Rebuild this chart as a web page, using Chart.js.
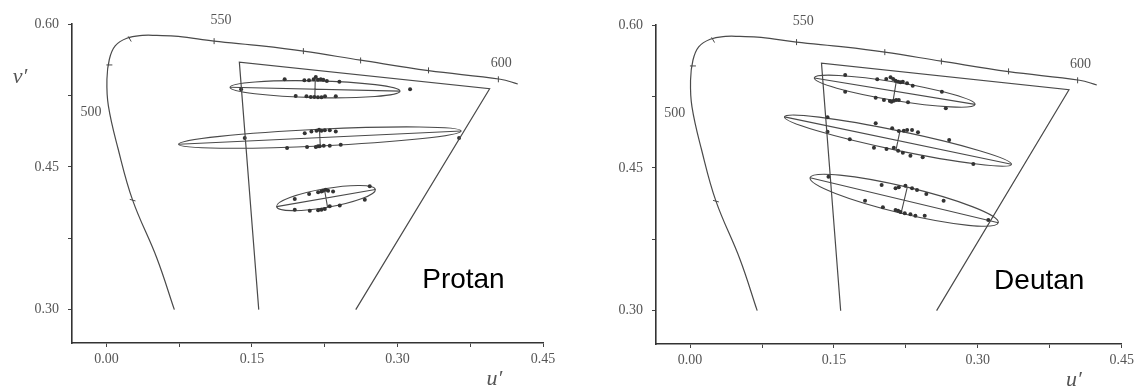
<!DOCTYPE html>
<html>
<head>
<meta charset="utf-8">
<script src="https://cdn.jsdelivr.net/npm/chart.js@4.4.0/dist/chart.umd.min.js"></script>
<style>
  html, body { margin: 0; padding: 0; background: #fff; }
  #wrap { position: relative; width: 1138px; height: 389px; }
  .panel { position: absolute; top: 0; }
</style>
</head>
<body>
<div id="wrap">
  <canvas id="protanChart" class="panel" style="left:0" width="569" height="389"></canvas>
  <canvas id="deutanChart" class="panel" style="left:569px" width="569" height="389"></canvas>
</div>
<script>
const uTicks = [0, 0.075, 0.15, 0.225, 0.30, 0.375, 0.45];
const vTicks = [0.30, 0.375, 0.45, 0.525, 0.60];

// spectrum locus, bottom of the blue side up and across to the red end
const locusU = [0.070, 0.052, 0.027, 0.012, 0.002, 0.0005, 0.003, 0.009, 0.021, 0.037, 0.052, 0.074, 0.111, 0.160, 0.203, 0.262, 0.332, 0.406, 0.424];
const locusV = [0.300, 0.354, 0.415, 0.469, 0.514, 0.542, 0.563, 0.577, 0.585, 0.588, 0.588, 0.587, 0.582, 0.577, 0.5715, 0.562, 0.551, 0.542, 0.537];

// small wavelength marks along the locus
const markU = [0.027, 0.003, 0.024, 0.111, 0.203, 0.262, 0.332, 0.404];
const markV = [0.415, 0.557, 0.5843, 0.582, 0.5715, 0.5617, 0.5513, 0.5419];
const markRot = [15, 0, 60, 90, 90, 90, 90, 90];

const waveText = ['550', '600', '500'];
const waveU = [0.118, 0.407, -0.016];
const waveV = [0.6035, 0.559, 0.507];

// display gamut, open at the bottom
const gamutU = [0.157, 0.137, 0.395, 0.257];
const gamutV = [0.300, 0.560, 0.532, 0.300];

// protan matches
const protanU = [0.1388, 0.1837, 0.2040, 0.2088, 0.2136, 0.2158, 0.2180, 0.2209, 0.2235, 0.2272, 0.2401, 0.1951, 0.2062, 0.2106, 0.2143, 0.2180, 0.2217, 0.2253, 0.2364, 0.3130,
  0.1426, 0.2044, 0.2113, 0.2165, 0.2192, 0.2216, 0.2251, 0.2302, 0.2364, 0.1862, 0.2068, 0.2158, 0.2181, 0.2199, 0.2240, 0.2302, 0.2415, 0.3635,
  0.1941, 0.2089, 0.2182, 0.2216, 0.2233, 0.2261, 0.2285, 0.2336, 0.2714, 0.2663, 0.1941, 0.2096, 0.2182, 0.2216, 0.2251, 0.2302, 0.2405];
const protanV = [0.5314, 0.5419, 0.5408, 0.5408, 0.5419, 0.5443, 0.5415, 0.5419, 0.5415, 0.5401, 0.5394, 0.5245, 0.5241, 0.5234, 0.5234, 0.5231, 0.5231, 0.5241, 0.5241, 0.5314,
  0.4803, 0.4852, 0.4872, 0.4880, 0.4890, 0.4880, 0.4883, 0.4883, 0.4872, 0.4698, 0.4708, 0.4708, 0.4715, 0.4715, 0.4722, 0.4722, 0.4733, 0.4803,
  0.4162, 0.4215, 0.4232, 0.4242, 0.4249, 0.4260, 0.4249, 0.4242, 0.4295, 0.4155, 0.4050, 0.4040, 0.4043, 0.4050, 0.4057, 0.4085, 0.4095];

// protan ellipses: centre, half major axis, half height
const protanCu = [0.2150, 0.2200, 0.2263];
const protanCv = [0.5315, 0.4807, 0.4172];
const protanDu = [0.0876, 0.1456, 0.0509];
const protanDv = [-0.0020, 0.0070, 0.0090];
const protanB = [0.0088, 0.0088, 0.0100];

// deutan matches
const deutanU = [0.1617, 0.1951, 0.2045, 0.2090, 0.2117, 0.2142, 0.2169, 0.2194, 0.2218, 0.2262, 0.2321, 0.2625, 0.1617, 0.1935, 0.2021, 0.2083, 0.2100, 0.2124, 0.2148, 0.2176, 0.2272, 0.2666,
  0.1433, 0.1935, 0.2107, 0.2176, 0.2228, 0.2263, 0.2314, 0.2376, 0.2701, 0.1433, 0.1665, 0.1917, 0.2048, 0.2124, 0.2169, 0.2218, 0.2297, 0.2425, 0.2953,
  0.1443, 0.1997, 0.2142, 0.2176, 0.2245, 0.2314, 0.2366, 0.2463, 0.2643, 0.1824, 0.2010, 0.2142, 0.2169, 0.2194, 0.2238, 0.2297, 0.2349, 0.2446, 0.3109];
const deutanV = [0.5475, 0.5430, 0.5433, 0.5451, 0.5433, 0.5415, 0.5405, 0.5398, 0.5405, 0.5388, 0.5363, 0.5300, 0.5300, 0.5237, 0.5212, 0.5202, 0.5195, 0.5205, 0.5212, 0.5212, 0.5188, 0.5125,
  0.5031, 0.4968, 0.4915, 0.4887, 0.4890, 0.4897, 0.4897, 0.4873, 0.4792, 0.4880, 0.4800, 0.4712, 0.4698, 0.4712, 0.4680, 0.4659, 0.4628, 0.4611, 0.4540,
  0.4407, 0.4320, 0.4285, 0.4296, 0.4312, 0.4285, 0.4267, 0.4225, 0.4155, 0.4155, 0.4086, 0.4057, 0.4050, 0.4036, 0.4022, 0.4012, 0.3997, 0.3997, 0.3952];

const deutanCu = [0.2133, 0.2167, 0.2232];
const deutanCv = [0.5305, 0.4786, 0.4160];
const deutanDu = [0.0838, 0.1183, 0.0981];
const deutanDv = [-0.0139, -0.0249, -0.0236];
const deutanB = [0.0097, 0.0104, 0.0145];

const ink = '#4a4a4a';
const serif = 'Liberation Serif';
const pts = (us, vs) => us.map((u, i) => ({ x: u, y: vs[i] }));

// ellipses, their axes and all the free text, placed through the scales
const cieMarks = {
  id: 'cieMarks',
  beforeDatasetsDraw(chart, args, o) {
    const { ctx, scales: { x, y } } = chart;
    ctx.save();
    ctx.strokeStyle = ink;
    ctx.lineWidth = 1.1;
    o.cu.forEach((cu, i) => {
      const cx = x.getPixelForValue(cu), cy = y.getPixelForValue(o.cv[i]);
      const ex = x.getPixelForValue(cu + o.du[i]) - cx;
      const ey = y.getPixelForValue(o.cv[i] + o.dv[i]) - cy;
      const rx = Math.hypot(ex, ey), rot = Math.atan2(ey, ex);
      const ry = Math.abs(y.getPixelForValue(o.cv[i] + o.b[i]) - cy) * Math.cos(rot);
      ctx.beginPath();
      ctx.ellipse(cx, cy, rx, ry, rot, 0, Math.PI * 2);
      ctx.stroke();
      ctx.beginPath();
      ctx.moveTo(cx - ex, cy - ey);
      ctx.lineTo(cx + ex, cy + ey);
      const nx = -Math.sin(rot) * ry, ny = Math.cos(rot) * ry;
      ctx.moveTo(cx - nx, cy - ny);
      ctx.lineTo(cx + nx, cy + ny);
      ctx.stroke();
    });
    ctx.restore();
  },
  afterDraw(chart, args, o) {
    const { ctx, scales: { x, y } } = chart;
    ctx.save();
    ctx.textAlign = 'center';
    ctx.textBaseline = 'middle';
    ctx.fillStyle = '#555';
    ctx.font = '14px "' + serif + '"';
    waveText.forEach((t, i) => ctx.fillText(t, x.getPixelForValue(waveU[i]), y.getPixelForValue(waveV[i])));
    ctx.font = 'italic 22px "' + serif + '"';
    ctx.fillText('u\u2032', x.getPixelForValue(0.40), y.getPixelForValue(0.2265));
    if (o.showV) ctx.fillText('v\u2032', x.left - 52, y.getPixelForValue(0.5436));
    ctx.fillStyle = '#000';
    ctx.font = '28px "Liberation Sans"';
    ctx.fillText(o.name, x.getPixelForValue(o.nameU), y.getPixelForValue(0.331));
    ctx.restore();
  }
};

function buildChart(id, cfg) {
  return new Chart(document.getElementById(id), {
    type: 'scatter',
    data: {
      datasets: [
        { data: pts(locusU, locusV), showLine: true, tension: 0.4, borderColor: ink, borderWidth: 1.2, pointRadius: 0 },
        { data: pts(gamutU, gamutV), showLine: true, tension: 0, borderColor: ink, borderWidth: 1.2, pointRadius: 0 },
        { data: pts(markU, markV), pointStyle: 'line', pointRotation: markRot, pointRadius: 3, borderColor: ink, borderWidth: 1 },
        { data: pts(cfg.u, cfg.v), pointRadius: 2, backgroundColor: '#333', borderColor: '#333', borderWidth: 0 }
      ]
    },
    options: {
      responsive: false,
      animation: false,
      layout: { padding: { top: cfg.top, right: cfg.right, left: 0, bottom: 0 } },
      plugins: {
        legend: { display: false },
        tooltip: { enabled: false },
        cieMarks: cfg.marks
      },
      scales: {
        x: {
          type: 'linear', min: -0.0355, max: 0.45,
          afterBuildTicks: s => { s.ticks = uTicks.map(v => ({ value: v })); },
          afterFit: s => { s.height = cfg.xh; },
          grid: { drawOnChartArea: false, tickLength: 4, tickColor: '#444' },
          border: { color: '#333', width: 1.6 },
          ticks: {
            autoSkip: false, maxRotation: 0, padding: 4, color: '#555',
            font: { family: serif, size: 14 },
            callback: v => Math.abs(v / 0.15 - Math.round(v / 0.15)) < 1e-6 ? v.toFixed(2) : ''
          }
        },
        y: {
          type: 'linear', min: 0.265, max: 0.60,
          afterBuildTicks: s => { s.ticks = vTicks.map(v => ({ value: v })); },
          afterFit: s => { s.width = cfg.yw; },
          grid: { drawOnChartArea: false, tickLength: 4, tickColor: '#444' },
          border: { color: '#333', width: 1.6 },
          ticks: {
            autoSkip: false, padding: 9, color: '#555',
            font: { family: serif, size: 14 },
            callback: v => Math.abs(v / 0.15 - Math.round(v / 0.15)) < 1e-6 ? v.toFixed(2) : ''
          }
        }
      }
    },
    plugins: [cieMarks]
  });
}

buildChart('protanChart', {
  u: protanU, v: protanV, top: 24, right: 26, yw: 72, xh: 46,
  marks: { cu: protanCu, cv: protanCv, du: protanDu, dv: protanDv, b: protanB, name: 'Protan', nameU: 0.368, showV: true }
});
buildChart('deutanChart', {
  u: deutanU, v: deutanV, top: 25, right: 14, yw: 87, xh: 45,
  marks: { cu: deutanCu, cv: deutanCv, du: deutanDu, dv: deutanDv, b: deutanB, name: 'Deutan', nameU: 0.364, showV: false }
});
</script>
</body>
</html>
